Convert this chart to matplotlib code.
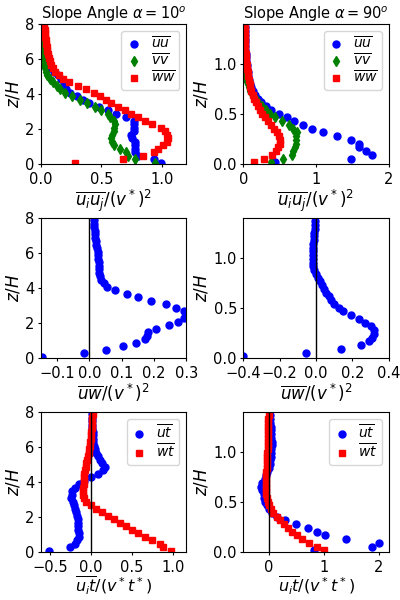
import matplotlib
matplotlib.use('Agg')
import matplotlib.pyplot as plt

plt.rcParams['font.size'] = 12
plt.rcParams['xtick.labelsize'] = 10.5
plt.rcParams['ytick.labelsize'] = 10.5
plt.rcParams['xtick.major.size'] = 2.5
plt.rcParams['ytick.major.size'] = 2.5
plt.rcParams['xtick.major.pad'] = 3
plt.rcParams['ytick.major.pad'] = 2

# z/H grids (alpha = 10 deg in left column, alpha = 90 deg in right column)
z10 = [0.1, 0.3, 0.5, 0.7, 0.9, 1.1, 1.3, 1.5, 1.7, 1.9,
       2.1, 2.3, 2.5, 2.7, 2.9, 3.1, 3.3, 3.5, 3.7, 3.9,
       4.1, 4.3, 4.5, 4.7, 4.9, 5.1, 5.3, 5.5, 5.7, 5.9,
       6.1, 6.3, 6.5, 6.7, 6.9, 7.1, 7.3, 7.5, 7.7, 7.9]
z90 = [0.019, 0.056, 0.094, 0.131, 0.169, 0.206, 0.244, 0.281, 0.319, 0.356,
       0.394, 0.431, 0.469, 0.506, 0.544, 0.581, 0.619, 0.656, 0.694, 0.731,
       0.769, 0.806, 0.844, 0.881, 0.919, 0.956, 0.994, 1.031, 1.069, 1.106,
       1.144, 1.181, 1.219, 1.256, 1.294, 1.331, 1.369]

# normal stresses, alpha = 10
uu10 = [0.99, 0.93, 0.80, 0.78, 0.78, 0.78, 0.78, 0.75, 0.74, 0.77,
        0.77, 0.77, 0.77, 0.70, 0.62, 0.55, 0.48, 0.40, 0.35, 0.30,
        0.24, 0.21, 0.19, 0.19, 0.17, 0.14, 0.11, 0.085, 0.065, 0.05,
        0.04, 0.035, 0.03, 0.027, 0.025, 0.022, 0.02, 0.02, 0.018, 0.017]
vv10 = [0.94, 0.78, 0.72, 0.70, 0.65, 0.60, 0.585, 0.58, 0.59, 0.60,
        0.60, 0.61, 0.60, 0.57, 0.55, 0.50, 0.45, 0.38, 0.32, 0.26,
        0.20, 0.16, 0.13, 0.10, 0.075, 0.055, 0.045, 0.035, 0.025, 0.02,
        0.015, 0.012, 0.01, 0.008, 0.007, 0.006, 0.005, 0.005, 0.004, 0.004]
ww10 = [0.28, 0.68, 0.84, 0.93, 0.97, 1.01, 1.04, 1.05, 1.04, 1.02,
        0.99, 0.92, 0.86, 0.80, 0.74, 0.69, 0.64, 0.58, 0.54, 0.49,
        0.44, 0.37, 0.31, 0.23, 0.18, 0.15, 0.12, 0.10, 0.085, 0.075,
        0.065, 0.058, 0.052, 0.047, 0.043, 0.04, 0.037, 0.034, 0.032, 0.03]

# normal stresses, alpha = 90
uu90 = [0.44, 1.48, 1.77, 1.68, 1.59, 1.59, 1.48, 1.29, 1.10, 0.95,
        0.82, 0.70, 0.60, 0.49, 0.38, 0.31, 0.25, 0.20, 0.16, 0.13,
        0.11, 0.09, 0.08, 0.07, 0.06, 0.055, 0.05, 0.045, 0.04, 0.035,
        0.03, 0.03, 0.025, 0.025, 0.02, 0.02, 0.02]
vv90 = [0.38, 0.55, 0.67, 0.69, 0.71, 0.73, 0.73, 0.72, 0.74, 0.69,
        0.63, 0.53, 0.44, 0.37, 0.31, 0.26, 0.21, 0.17, 0.13, 0.10,
        0.08, 0.06, 0.045, 0.035, 0.025, 0.02, 0.015, 0.012, 0.01, 0.01,
        0.01, 0.01, 0.01, 0.01, 0.01, 0.01, 0.01]
ww90 = [0.155, 0.29, 0.40, 0.45, 0.48, 0.50, 0.51, 0.49, 0.46, 0.42,
        0.38, 0.34, 0.30, 0.26, 0.23, 0.20, 0.17, 0.15, 0.13, 0.11,
        0.10, 0.09, 0.08, 0.07, 0.06, 0.055, 0.05, 0.045, 0.04, 0.035,
        0.03, 0.03, 0.025, 0.025, 0.02, 0.02, 0.02]

# shear stress
uw10 = [-0.145, -0.017, 0.053, 0.105, 0.145, 0.172, 0.177, 0.18, 0.207, 0.246,
        0.275, 0.294, 0.30, 0.292, 0.269, 0.236, 0.192, 0.149, 0.115, 0.08,
        0.054, 0.044, 0.036, 0.032, 0.03, 0.03, 0.03, 0.029, 0.028, 0.028,
        0.026, 0.024, 0.022, 0.021, 0.019, 0.017, 0.016, 0.015, 0.014, 0.014]
uw90 = [-0.40, -0.055, 0.135, 0.245, 0.29, 0.305, 0.318, 0.32, 0.30, 0.27,
        0.235, 0.19, 0.15, 0.125, 0.097, 0.082, 0.069, 0.056, 0.046, 0.034,
        0.023, 0.009, 0.0, -0.013, -0.015, -0.017, -0.018, -0.018, -0.017, -0.016,
        -0.015, -0.013, -0.011, -0.01, -0.008, -0.006, -0.005]

# heat fluxes
ut10 = [-0.51, -0.26, -0.20, -0.17, -0.15, -0.14, -0.155, -0.16, -0.16, -0.155,
        -0.17, -0.18, -0.20, -0.21, -0.22, -0.24, -0.235, -0.225, -0.20, -0.15,
        -0.09, 0.0, 0.08, 0.15, 0.17, 0.14, 0.11, 0.08, 0.06, 0.045,
        0.035, 0.03, 0.025, 0.02, 0.02, 0.015, 0.015, 0.01, 0.01, 0.01]
wt10 = [0.97, 0.88, 0.84, 0.74, 0.66, 0.57, 0.50, 0.42, 0.35, 0.28,
        0.21, 0.13, 0.06, 0.0, -0.06, -0.09, -0.10, -0.10, -0.095, -0.09,
        -0.085, -0.085, -0.08, -0.075, -0.065, -0.055, -0.045, -0.035, -0.03, -0.02,
        -0.015, -0.01, -0.005, 0.0, 0.005, 0.01, 0.01, 0.015, 0.015, 0.02]
ut90 = [0.82, 1.87, 2.0, 1.40, 1.03, 0.87, 0.72, 0.50, 0.29, 0.15,
        0.06, 0.01, -0.03, -0.06, -0.08, -0.09, -0.11, -0.13, -0.11, -0.07,
        -0.04, -0.02, 0.0, 0.02, 0.03, 0.04, 0.05, 0.05, 0.06, 0.06,
        0.05, 0.05, 0.04, 0.04, 0.03, 0.03, 0.02]
wt90 = [1.0, 0.87, 0.73, 0.61, 0.52, 0.43, 0.35, 0.28, 0.21, 0.145,
        0.085, 0.045, 0.015, -0.01, -0.03, -0.04, -0.05, -0.055, -0.055, -0.05,
        -0.045, -0.04, -0.035, -0.03, -0.025, -0.02, -0.02, -0.015, -0.01, -0.01,
        -0.008, -0.006, -0.005, -0.004, -0.003, -0.002, 0.0]

lab_uu = r'$\overline{uu}$'
lab_vv = r'$\overline{vv}$'
lab_ww = r'$\overline{ww}$'
lab_ut = r'$\overline{ut}$'
lab_wt = r'$\overline{wt}$'

fig, axs = plt.subplots(3, 2, figsize=(4, 6), dpi=100)
plt.subplots_adjust(left=0.102, right=0.972, top=0.9595, bottom=0.0795,
                    wspace=0.39, hspace=0.386)

ms = 5
leg_kw = dict(loc='upper right', fontsize=10, handlelength=1.2,
              handletextpad=0.6, borderpad=0.3, labelspacing=0.05)

# row 1: normal stresses
ax = axs[0, 0]
ax.plot(uu10, z10, 'bo', ms=ms, label=lab_uu)
ax.plot(vv10, z10, 'gd', ms=ms, label=lab_vv)
ax.plot(ww10, z10, 'rs', ms=4.5, label=lab_ww)
ax.set_xlim(0, 1.2)
ax.set_ylim(0, 8)
ax.set_xticks([0.0, 0.5, 1.0])
ax.set_title(r'Slope Angle $\alpha=10^o$', fontsize=10.5, pad=3)

ax = axs[0, 1]
ax.plot(uu90, z90, 'bo', ms=ms, label=lab_uu)
ax.plot(vv90, z90, 'gd', ms=ms, label=lab_vv)
ax.plot(ww90, z90, 'rs', ms=4.5, label=lab_ww)
ax.set_xlim(0, 2)
ax.set_ylim(0, 1.4)
ax.set_xticks([0, 1, 2])
ax.set_title(r'Slope Angle $\alpha=90^o$', fontsize=10.5, pad=3)

for ax in axs[0]:
    ax.set_xlabel(r'$\overline{u_iu_j}/(v^*)^2$', labelpad=1)
    ax.legend(**leg_kw)

# row 2: shear stress
ax = axs[1, 0]
ax.plot(uw10, z10, 'bo', ms=ms)
ax.axvline(0, color='k', lw=1)
ax.set_xlim(-0.15, 0.3)
ax.set_ylim(0, 8)
ax.set_xticks([-0.1, 0.0, 0.1, 0.2, 0.3])

ax = axs[1, 1]
ax.plot(uw90, z90, 'bo', ms=ms)
ax.axvline(0, color='k', lw=1)
ax.set_xlim(-0.4, 0.4)
ax.set_ylim(0, 1.4)
ax.set_xticks([-0.4, -0.2, 0.0, 0.2, 0.4])

for ax in axs[1]:
    ax.set_xlabel(r'$\overline{uw}/(v^*)^2$', labelpad=1)

# row 3: heat fluxes
ax = axs[2, 0]
ax.plot(ut10, z10, 'bo', ms=ms, label=lab_ut)
ax.plot(wt10, z10, 'rs', ms=4.5, label=lab_wt)
ax.axvline(0, color='k', lw=1)
ax.set_xlim(-0.61, 1.16)
ax.set_ylim(0, 8)
ax.set_xticks([-0.5, 0.0, 0.5, 1.0])

ax = axs[2, 1]
ax.plot(ut90, z90, 'bo', ms=ms, label=lab_ut)
ax.plot(wt90, z90, 'rs', ms=4.5, label=lab_wt)
ax.axvline(0, color='k', lw=1)
ax.set_xlim(-0.46, 2.18)
ax.set_ylim(0, 1.4)
ax.set_xticks([0, 1, 2])

for ax in axs[2]:
    ax.set_xlabel(r'$\overline{u_it}/(v^*t^*)$', labelpad=0, fontsize=11.5)
    ax.legend(**leg_kw)

for ax in axs[:, 0]:
    ax.set_yticks([0, 2, 4, 6, 8])
for ax in axs[:, 1]:
    ax.set_yticks([0.0, 0.5, 1.0])
for ax in axs.flat:
    ax.set_ylabel(r'$z/H$', labelpad=2)

plt.savefig('out.png')
